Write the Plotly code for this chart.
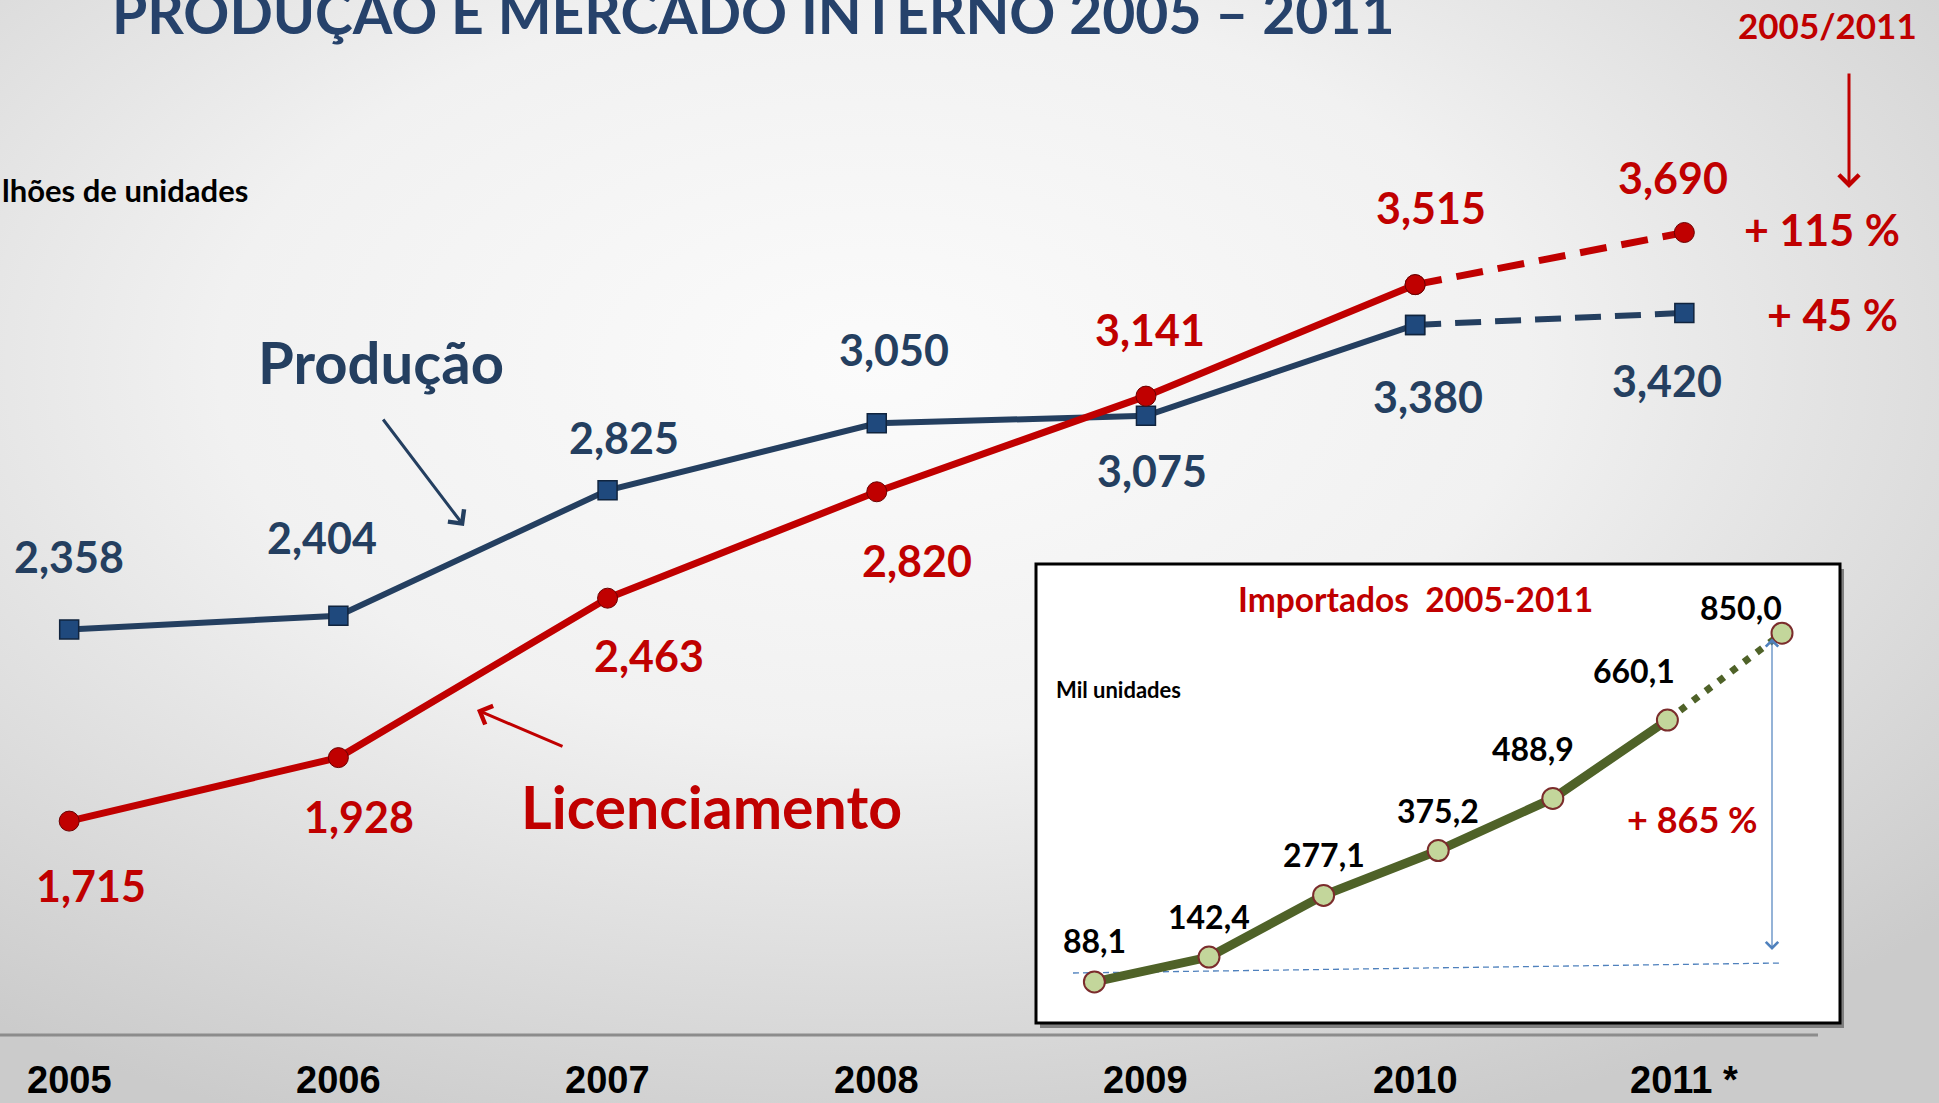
import base64
import plotly.graph_objects as go

# ---------------- data ----------------
years = [2005, 2006, 2007, 2008, 2009, 2010, 2011]
year_labels = ["2005", "2006", "2007", "2008", "2009", "2010", "2011 *"]
producao = [2358, 2404, 2825, 3050, 3075, 3380, 3420]
producao_labels = ["2,358", "2,404", "2,825", "3,050", "3,075", "3,380", "3,420"]
licenciamento = [1715, 1928, 2463, 2820, 3141, 3515, 3690]
licenciamento_labels = ["1,715", "1,928", "2,463", "2,820", "3,141", "3,515", "3,690"]
importados = [88.1, 142.4, 277.1, 375.2, 488.9, 660.1, 850.0]
importados_labels = ["88,1", "142,4", "277,1", "375,2", "488,9", "660,1", "850,0"]
growth_labels = ["+ 115 %", "+ 45 %"]
import_growth_label = "+ 865 %"

# ---------------- style ----------------
W, H = 1939, 1103
NAVY = "#243f60"
RED = "#c00000"
OLIVE = "#4f6228"
FONT = "Lato, 'Open Sans', sans-serif"
ARIAL = "'Liberation Sans', Arial, sans-serif"


def px(x):
    return x / W


def py(y):
    return 1 - y / H


# background radial gradient as svg
svg = (
    f'<svg xmlns="http://www.w3.org/2000/svg" width="{W}" height="{H}">'
    '<defs><radialGradient id="g" cx="0.45" cy="0.33" r="0.75">'
    '<stop offset="0" stop-color="#fbfbfb"/>'
    '<stop offset="0.45" stop-color="#f1f1f1"/>'
    '<stop offset="1" stop-color="#cbcbcb"/>'
    '</radialGradient></defs>'
    f'<rect width="{W}" height="{H}" fill="url(#g)"/></svg>'
)
bg_src = "data:image/svg+xml;base64," + base64.b64encode(svg.encode()).decode()

fig = go.Figure()

# main chart: Produção
fig.add_trace(go.Scatter(
    x=years[:6], y=producao[:6], mode="lines+markers",
    line=dict(color=NAVY, width=6),
    marker=dict(symbol="square", size=19, color="#1f497d", line=dict(color="#10243e", width=1.5)),
    hoverinfo="skip", showlegend=False))
fig.add_trace(go.Scatter(
    x=years[5:], y=producao[5:], mode="lines+markers",
    line=dict(color=NAVY, width=6, dash="26px,14px"),
    marker=dict(symbol="square", size=19, color="#1f497d", line=dict(color="#10243e", width=1.5)),
    hoverinfo="skip", showlegend=False))
# Licenciamento
fig.add_trace(go.Scatter(
    x=years[:6], y=licenciamento[:6], mode="lines+markers",
    line=dict(color=RED, width=7),
    marker=dict(symbol="circle", size=20, color=RED, line=dict(color="#6b0000", width=1)),
    hoverinfo="skip", showlegend=False))
fig.add_trace(go.Scatter(
    x=years[5:], y=licenciamento[5:], mode="lines+markers",
    line=dict(color=RED, width=7, dash="27px,15px"),
    marker=dict(symbol="circle", size=20, color=RED, line=dict(color="#6b0000", width=1)),
    hoverinfo="skip", showlegend=False))

# inset: Importados
fig.add_trace(go.Scatter(
    x=years[:6], y=importados[:6], mode="lines", xaxis="x2", yaxis="y2",
    line=dict(color=OLIVE, width=9), hoverinfo="skip", showlegend=False))
fig.add_trace(go.Scatter(
    x=years[5:], y=importados[5:], mode="lines", xaxis="x2", yaxis="y2",
    line=dict(color=OLIVE, width=7, dash="7px,9px"), hoverinfo="skip", showlegend=False))
fig.add_trace(go.Scatter(
    x=years, y=importados, mode="markers", xaxis="x2", yaxis="y2",
    marker=dict(symbol="circle", size=21, color="#c3d69b", line=dict(color="#7b2c2c", width=2)),
    hoverinfo="skip", showlegend=False))

annotations = []

# value labels main chart
prod_shift = [(0, 73), (-16, 78), (16, 53), (17, 74), (6, -55), (13, -72), (-17, -68)]
lic_shift = [(22, -64), (21, -59), (41, -57), (40, -69), (4, 67), (16, 77), (-11, 55)]
for x, v, t, (dx, dy) in zip(years, producao, producao_labels, prod_shift):
    annotations.append(dict(x=x, y=v, xref="x", yref="y", text=t, showarrow=False,
                            xshift=dx, yshift=dy, xanchor="center", yanchor="middle",
                            font=dict(family=FONT, size=43, color=NAVY, weight="bold")))
for x, v, t, (dx, dy) in zip(years, licenciamento, licenciamento_labels, lic_shift):
    annotations.append(dict(x=x, y=v, xref="x", yref="y", text=t, showarrow=False,
                            xshift=dx, yshift=dy, xanchor="center", yanchor="middle",
                            font=dict(family=FONT, size=43, color=RED, weight="bold")))

# inset value labels
imp_shift = [(0, 41), (0, 41), (0, 41), (0, 40), (-20, 50), (-33, 50), (-41, 26)]
for x, v, t, (dx, dy) in zip(years, importados, importados_labels, imp_shift):
    annotations.append(dict(x=x, y=v, xref="x2", yref="y2", text=t, showarrow=False,
                            xshift=dx, yshift=dy, xanchor="center", yanchor="middle",
                            font=dict(family=FONT, size=32, color="black", weight="bold")))

# year labels
for x, t in zip(years, year_labels):
    annotations.append(dict(x=x, y=py(1080), xref="x", yref="paper", text=t, showarrow=False,
                            xanchor="center", yanchor="middle", borderpad=0,
                            font=dict(family=ARIAL, size=38, color="black", weight="bold")))

# title (cut at top, as in the reference)
annotations.append(dict(x=px(110), y=py(12), xref="paper", yref="paper",
                        text="PRODUÇÃO E MERCADO INTERNO 2005 – 2011", showarrow=False,
                        xanchor="left", yanchor="middle",
                        font=dict(family=FONT, size=57, color="#26426b", weight="bold")))
# unit label
annotations.append(dict(x=px(0), y=py(190), xref="paper", yref="paper",
                        text="lhões de unidades", showarrow=False,
                        xanchor="left", yanchor="middle",
                        font=dict(family=FONT, size=31, color="black", weight="bold")))
# series names
annotations.append(dict(x=px(381), y=py(361), xref="paper", yref="paper", text="Produção",
                        showarrow=False, xanchor="center", yanchor="middle",
                        font=dict(family=FONT, size=58, color=NAVY, weight="bold")))
annotations.append(dict(x=px(711), y=py(806), xref="paper", yref="paper", text="Licenciamento",
                        showarrow=False, xanchor="center", yanchor="middle",
                        font=dict(family=FONT, size=59, color=RED, weight="bold")))
# pointer arrows
annotations.append(dict(x=px(464), y=py(526), xref="paper", yref="paper", text="",
                        showarrow=True, ax=-82, ay=-108, arrowhead=4, arrowsize=1.3,
                        arrowwidth=3, arrowcolor=NAVY))
annotations.append(dict(x=px(477), y=py(710), xref="paper", yref="paper", text="",
                        showarrow=True, ax=87, ay=37, arrowhead=4, arrowsize=1.3,
                        arrowwidth=3, arrowcolor=RED))
# right side growth
annotations.append(dict(x=px(1827), y=py(25), xref="paper", yref="paper", text="2005/2011",
                        showarrow=False, xanchor="center", yanchor="middle",
                        font=dict(family=FONT, size=35, color=RED, weight="bold")))
annotations.append(dict(x=px(1849), y=py(188), xref="paper", yref="paper", text="",
                        showarrow=True, ax=0, ay=-116, arrowhead=4, arrowsize=1.3,
                        arrowwidth=3, arrowcolor=RED))
annotations.append(dict(x=px(1822), y=py(229), xref="paper", yref="paper", text=growth_labels[0],
                        showarrow=False, xanchor="center", yanchor="middle",
                        font=dict(family=FONT, size=43, color=RED, weight="bold")))
annotations.append(dict(x=px(1832), y=py(314), xref="paper", yref="paper", text=growth_labels[1],
                        showarrow=False, xanchor="center", yanchor="middle",
                        font=dict(family=FONT, size=43, color=RED, weight="bold")))

# inset texts
annotations.append(dict(x=px(1415), y=py(599), xref="paper", yref="paper",
                        text="Importados  2005-2011", showarrow=False,
                        xanchor="center", yanchor="middle",
                        font=dict(family=FONT, size=33.5, color=RED, weight="bold")))
annotations.append(dict(x=px(1054), y=py(689), xref="paper", yref="paper",
                        text="Mil unidades", showarrow=False,
                        xanchor="left", yanchor="middle",
                        font=dict(family=FONT, size=22, color="black", weight="bold")))
annotations.append(dict(x=px(1692), y=py(819), xref="paper", yref="paper",
                        text=import_growth_label, showarrow=False,
                        xanchor="center", yanchor="middle",
                        font=dict(family=FONT, size=36, color=RED, weight="bold")))
annotations.append(dict(x=px(1772), y=py(950), xref="paper", yref="paper", text="",
                        showarrow=True, ax=0, ay=-313, arrowhead=4, startarrowhead=4,
                        arrowside="end+start", arrowsize=2, startarrowsize=2,
                        arrowwidth=1.2, arrowcolor="#4f81bd"))

shapes = [
    # inset shadow
    dict(type="rect", xref="paper", yref="paper", x0=px(1040), x1=px(1844),
         y0=py(1028), y1=py(569), fillcolor="#7f7f7f", line=dict(width=0), layer="below"),
    # inset box
    dict(type="rect", xref="paper", yref="paper", x0=px(1036), x1=px(1840),
         y0=py(1023), y1=py(564), fillcolor="white", line=dict(color="black", width=3),
         layer="below"),
    # baseline
    dict(type="line", xref="paper", yref="paper", x0=0, x1=px(1818), y0=py(1035), y1=py(1035),
         line=dict(color="#8c8c8c", width=3), layer="below"),
    # inset dashed reference
    dict(type="line", xref="paper", yref="paper", x0=px(1073), x1=px(1781),
         y0=py(973), y1=py(963), line=dict(color="#4f81bd", width=1.3, dash="6px,4px"),
         layer="below"),
]

fig.update_layout(
    width=W, height=H,
    margin=dict(l=0, r=0, t=0, b=0),
    paper_bgcolor="#e6e6e6",
    plot_bgcolor="rgba(0,0,0,0)",
    xaxis=dict(domain=[0, 1], range=[2004.743, 2011.946], visible=False, fixedrange=True),
    yaxis=dict(domain=[0, 1], range=[769.1, 4470.1], visible=False, fixedrange=True),
    xaxis2=dict(domain=[px(1036), px(1840)], range=[2004.4904, 2011.506], visible=False,
                anchor="y2"),
    yaxis2=dict(domain=[py(1023), py(564)], range=[-1.7, 1001.2], visible=False, anchor="x2"),
    annotations=annotations,
    shapes=shapes,
    images=[dict(source=bg_src, xref="paper", yref="paper", x=0, y=1, sizex=1, sizey=1,
                 sizing="stretch", layer="below", xanchor="left", yanchor="top")],
    showlegend=False,
)

fig.write_html("out.html")
